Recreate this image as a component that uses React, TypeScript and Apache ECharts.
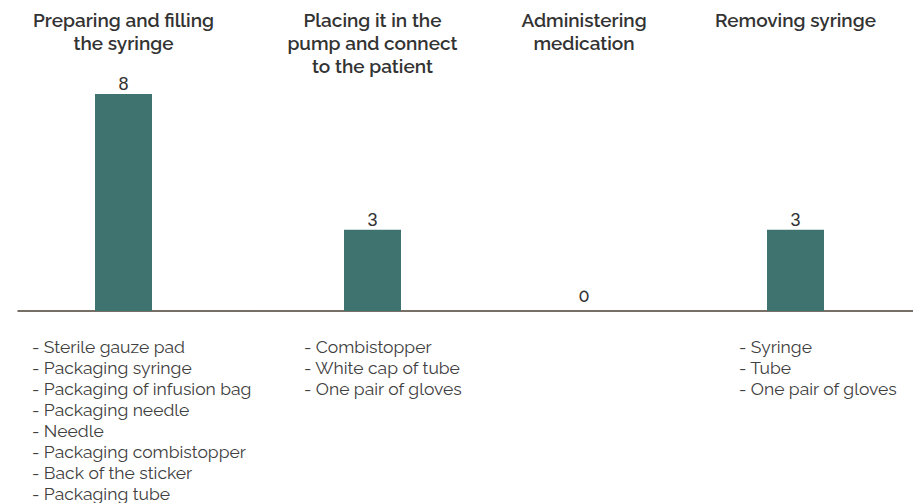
import React, { useEffect, useRef } from "react";
import * as echarts from "echarts";

const categories = [
  "Preparing and filling\nthe syringe",
  "Placing it in the\npump and connect\nto the patient",
  "Administering\nmedication",
  "Removing syringe",
];
const counts = [8, 3, 0, 3];
const wasteItems: string[][] = [
  [
    "- Sterile gauze pad",
    "- Packaging syringe",
    "- Packaging of infusion bag",
    "- Packaging needle",
    "- Needle",
    "- Packaging combistopper",
    "- Back of the sticker",
    "- Packaging tube",
  ],
  ["- Combistopper", "- White cap of tube", "- One pair of gloves"],
  [],
  ["- Syringe", "- Tube", "- One pair of gloves"],
];

// layout
const centers = [123.5, 372.5, 584, 795.5];
const listLefts = [32, 304, 0, 739];
const gridW = 190;
const gridTop = 94;
const gridBottom = 192;
const FONT = "Raleway, 'Open Sans', Lato, sans-serif";
const NUM_FONT = "'Liberation Sans', Arial, sans-serif";

export default function App() {
  const ref = useRef<HTMLDivElement>(null);
  useEffect(() => {
    if (!ref.current) return;
    const chart = echarts.init(ref.current, undefined, { renderer: "svg" });
    const grids: any[] = [];
    const xAxes: any[] = [];
    const yAxes: any[] = [];
    const series: any[] = [];
    categories.forEach((cat, i) => {
      grids.push({ left: centers[i] - gridW / 2, width: gridW, top: gridTop, bottom: gridBottom });
      xAxes.push({
        type: "category",
        gridIndex: i,
        position: "top",
        data: [cat],
        axisLine: { show: false },
        axisTick: { show: false },
        axisLabel: {
          interval: 0,
          margin: 86,
          verticalAlign: "top",
          color: "#333333",
          fontFamily: FONT,
          fontWeight: 600,
          fontSize: 19,
          lineHeight: 23,
        },
      });
      yAxes.push({ type: "value", gridIndex: i, min: 0, max: 8, show: false });
      const isZero = counts[i] === 0;
      series.push({
        type: "bar",
        xAxisIndex: i,
        yAxisIndex: i,
        data: [counts[i]],
        barWidth: 57,
        itemStyle: { color: "#3e7370" },
        label: {
          show: true,
          position: "top",
          distance: isZero ? 7 : 1,
          color: "#333333",
          fontFamily: isZero ? FONT : NUM_FONT,
          fontWeight: isZero ? 500 : 400,
          fontSize: 18,
        },
      });
    });
    // baseline grid
    grids.push({ left: 18, right: 0, top: gridTop, bottom: gridBottom });
    xAxes.push({
      type: "value",
      gridIndex: 4,
      min: 0,
      max: 1,
      axisLine: { show: true, onZero: false, lineStyle: { color: "#4a4033", width: 1.5 } },
      axisTick: { show: false },
      axisLabel: { show: false },
      splitLine: { show: false },
    });
    yAxes.push({ type: "value", gridIndex: 4, min: 0, max: 1, show: false });

    const graphic = wasteItems
      .map((lines, i) =>
        lines.length
          ? {
              type: "text",
              left: listLefts[i],
              top: 336,
              style: {
                text: lines.join("\n"),
                fill: "#404040",
                font: `400 17.5px ${FONT}`,
                lineHeight: 21,
              },
            }
          : null
      )
      .filter(Boolean);

    chart.setOption({
      animation: false,
      backgroundColor: "#ffffff",
      grid: grids,
      xAxis: xAxes,
      yAxis: yAxes,
      series,
      graphic,
    });
    return () => chart.dispose();
  }, []);
  return (
    <div
      ref={ref}
      style={{ position: "absolute", left: 0, top: 0, width: 913, height: 503 }}
    />
  );
}
